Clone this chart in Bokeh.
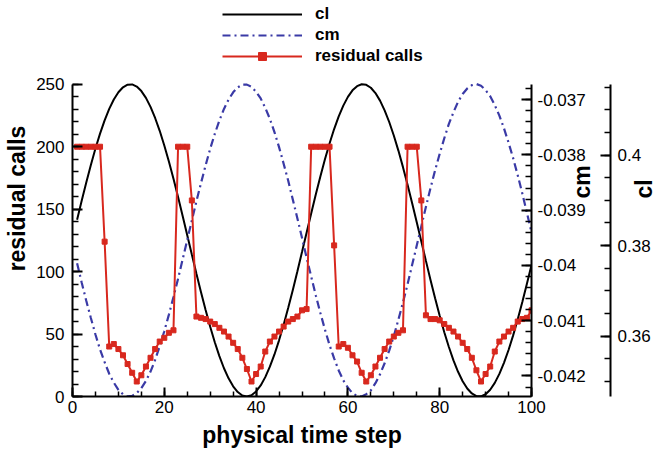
import math

from bokeh.plotting import figure
from bokeh.models import (Range1d, LinearAxis, SingleIntervalTicker,
                          CustomJSTickFormatter, Legend, LegendItem)
from bokeh.embed import file_html
from bokeh.resources import INLINE

# ---- data -------------------------------------------------------------
time_steps = list(range(1, 101))

residual_calls = [
    200, 200, 200, 200, 200, 200, 124,
    40, 42, 38, 33, 26, 19, 12, 17, 24, 31, 38, 44, 47, 51, 53,
    200, 200, 200, 157,
    64, 63, 62, 60, 58, 55, 52, 48, 43, 38, 31, 22, 12, 18, 24, 36, 44, 48,
    52, 56, 60, 62, 64,
    69, 70,
    200, 200, 200, 200, 200, 121,
    40, 42, 39, 33, 28, 19, 12, 17, 24, 31, 38, 44, 48, 51, 53,
    200, 200, 200, 157,
    65, 62, 62, 61, 58, 55, 52, 48, 43, 38, 31, 21, 12, 18, 24, 36, 44, 48,
    52, 55, 60, 62, 63,
    69,
]

cl = [
    0.38570, 0.38990, 0.39396, 0.39782, 0.40143, 0.40473, 0.40766, 0.41019, 0.41227, 0.41387,
    0.41497, 0.41555, 0.41561, 0.41513, 0.41413, 0.41263, 0.41064, 0.40819, 0.40535, 0.40211,
    0.39857, 0.39475, 0.39072, 0.38655, 0.38230, 0.37802, 0.37379, 0.36968, 0.36575, 0.36205,
    0.35864, 0.35558, 0.35290, 0.35068, 0.34891, 0.34764, 0.34688, 0.34665, 0.34695, 0.34777,
    0.34911, 0.35094, 0.35324, 0.35595, 0.35907, 0.36251, 0.36625, 0.37021, 0.37434, 0.37858,
    0.38285, 0.38710, 0.39126, 0.39526, 0.39905, 0.40256, 0.40574, 0.40854, 0.41092, 0.41285,
    0.41429, 0.41522, 0.41563, 0.41551, 0.41486, 0.41369, 0.41202, 0.40988, 0.40730, 0.40431,
    0.40098, 0.39733, 0.39344, 0.38936, 0.38515, 0.38088, 0.37662, 0.37242, 0.36836, 0.36450,
    0.36086, 0.35759, 0.35464, 0.35212, 0.35004, 0.34843, 0.34733, 0.34675, 0.34669, 0.34716,
    0.34816, 0.34966, 0.35165, 0.35410, 0.35693, 0.36016, 0.36371, 0.36752, 0.37155, 0.37573,
]

cm = [
    -0.03996, -0.04031, -0.04064, -0.04095, -0.04125, -0.04152, -0.04175, -0.04196, -0.04212, -0.04225,
    -0.04233, -0.04237, -0.04236, -0.04231, -0.04222, -0.04209, -0.04192, -0.04171, -0.04146, -0.04119,
    -0.04089, -0.04057, -0.04024, -0.03989, -0.03954, -0.03919, -0.03884, -0.03851, -0.03819, -0.03789,
    -0.03762, -0.03738, -0.03717, -0.03700, -0.03687, -0.03678, -0.03673, -0.03673, -0.03677, -0.03686,
    -0.03698, -0.03715, -0.03735, -0.03759, -0.03786, -0.03816, -0.03847, -0.03881, -0.03915, -0.03950,
    -0.03986, -0.04020, -0.04054, -0.04086, -0.04116, -0.04144, -0.04168, -0.04190, -0.04208, -0.04221,
    -0.04231, -0.04236, -0.04237, -0.04233, -0.04226, -0.04213, -0.04197, -0.04177, -0.04154, -0.04128,
    -0.04098, -0.04067, -0.04034, -0.03999, -0.03964, -0.03929, -0.03894, -0.03860, -0.03828, -0.03798,
    -0.03770, -0.03744, -0.03723, -0.03704, -0.03690, -0.03680, -0.03674, -0.03672, -0.03675, -0.03683,
    -0.03694, -0.03710, -0.03729, -0.03752, -0.03778, -0.03806, -0.03837, -0.03870, -0.03905, -0.03940,
]

# axis extents (the span each axis line covers)
x_lo, x_hi = 0, 100
calls_lo, calls_hi = 0, 250
cm_lo, cm_hi = -0.042371, -0.036724
cl_lo, cl_hi = 0.34666, 0.41563

# ---- layout -----------------------------------------------------------
W, H = 672, 450
BORDER_L, BORDER_R, BORDER_B = 72, 141, 53
AXIS_TOP = 84                       # pixel row where the axes end
FRAME_H = H - BORDER_B              # frame reaches the top of the canvas
AXIS_H = FRAME_H - AXIS_TOP
stretch = FRAME_H / AXIS_H          # headroom above the axes holds the legend


def headroom(lo, hi):
    return Range1d(lo, lo + (hi - lo) * stretch)


FONT = "Liberation Sans"
RED = "#d8281e"
BLUE = "#3a3aa6"

p = figure(width=W, height=H, output_backend="svg", toolbar_location=None,
           x_range=Range1d(x_lo, x_hi), y_range=headroom(calls_lo, calls_hi),
           min_border_left=BORDER_L, min_border_right=BORDER_R,
           min_border_top=0, min_border_bottom=BORDER_B)
p.extra_y_ranges = {"cm": headroom(cm_lo, cm_hi), "cl": headroom(cl_lo, cl_hi)}
p.outline_line_color = None
p.xgrid.visible = False
p.ygrid.visible = False
p.background_fill_color = "white"
p.border_fill_color = "white"

cl_r = p.line(time_steps, cl, y_range_name="cl", line_color="black", line_width=2)
cm_r = p.line(time_steps, cm, y_range_name="cm", line_color=BLUE, line_width=2.2,
              line_dash="8 4 2 4")
calls_line = p.line(time_steps, residual_calls, line_color=RED, line_width=2)
calls_pts = p.scatter(time_steps, residual_calls, marker="square", size=5,
                      fill_color=RED, line_color=RED)


def style_axis(ax, tick_len=10, minor_len=6, label_standoff=6, title_standoff=8):
    ax.axis_line_width = 2
    ax.axis_line_color = "black"
    ax.major_tick_line_width = 2
    ax.minor_tick_line_width = 1.5
    ax.major_tick_line_color = "black"
    ax.minor_tick_line_color = "black"
    ax.major_tick_in = tick_len
    ax.major_tick_out = 0
    ax.minor_tick_in = minor_len
    ax.minor_tick_out = 0
    ax.major_label_text_font = FONT
    ax.major_label_text_font_size = "17px"
    ax.major_label_text_color = "black"
    ax.major_label_standoff = label_standoff
    ax.axis_label_text_font = FONT
    ax.axis_label_text_font_size = "23px"
    ax.axis_label_text_font_style = "bold"
    ax.axis_label_text_color = "black"
    ax.axis_label_standoff = title_standoff


def read_upward(ax):
    # side titles read bottom-to-top, like the left one
    if "axis_label_orientation" in ax.properties():
        ax.axis_label_orientation = math.pi / 2


xa = p.xaxis[0]
xa.ticker = SingleIntervalTicker(interval=20, num_minor_ticks=4)
xa.axis_label = "physical time step"
style_axis(xa, tick_len=9, minor_len=5, label_standoff=4, title_standoff=6)

ya = p.yaxis[0]
ya.ticker = SingleIntervalTicker(interval=50, num_minor_ticks=5)
ya.axis_label = "residual calls"
ya.bounds = (calls_lo, calls_hi)
style_axis(ya, label_standoff=8, title_standoff=3)

cm_axis = LinearAxis(y_range_name="cm", axis_label="cm", bounds=(cm_lo, cm_hi),
                     ticker=SingleIntervalTicker(interval=0.001, num_minor_ticks=5),
                     formatter=CustomJSTickFormatter(
                         code="return parseFloat(tick.toFixed(4)).toString();"))
style_axis(cm_axis, label_standoff=6, title_standoff=-7)
read_upward(cm_axis)
p.add_layout(cm_axis, "right")

cl_axis = LinearAxis(y_range_name="cl", axis_label="cl", bounds=(cl_lo, cl_hi),
                     ticker=SingleIntervalTicker(interval=0.02, num_minor_ticks=4),
                     formatter=CustomJSTickFormatter(
                         code="return parseFloat(tick.toFixed(3)).toString();"))
style_axis(cl_axis, label_standoff=7, title_standoff=-10)
read_upward(cl_axis)
p.add_layout(cl_axis, "right")

legend = Legend(items=[
    LegendItem(label="cl", renderers=[cl_r]),
    LegendItem(label="cm", renderers=[cm_r]),
    LegendItem(label="residual calls", renderers=[calls_line, calls_pts]),
], location=(150, FRAME_H - 67), orientation="vertical")
legend.glyph_width = 80
legend.glyph_height = 20
legend.label_height = 20
legend.label_standoff = 13
legend.spacing = 1
legend.padding = 0
legend.margin = 0
legend.border_line_color = None
legend.background_fill_alpha = 0
legend.label_text_font = FONT
legend.label_text_font_size = "17px"
legend.label_text_font_style = "bold"
legend.label_text_color = "black"
p.add_layout(legend, "center")

open("out.html", "w").write(file_html(p, INLINE))
